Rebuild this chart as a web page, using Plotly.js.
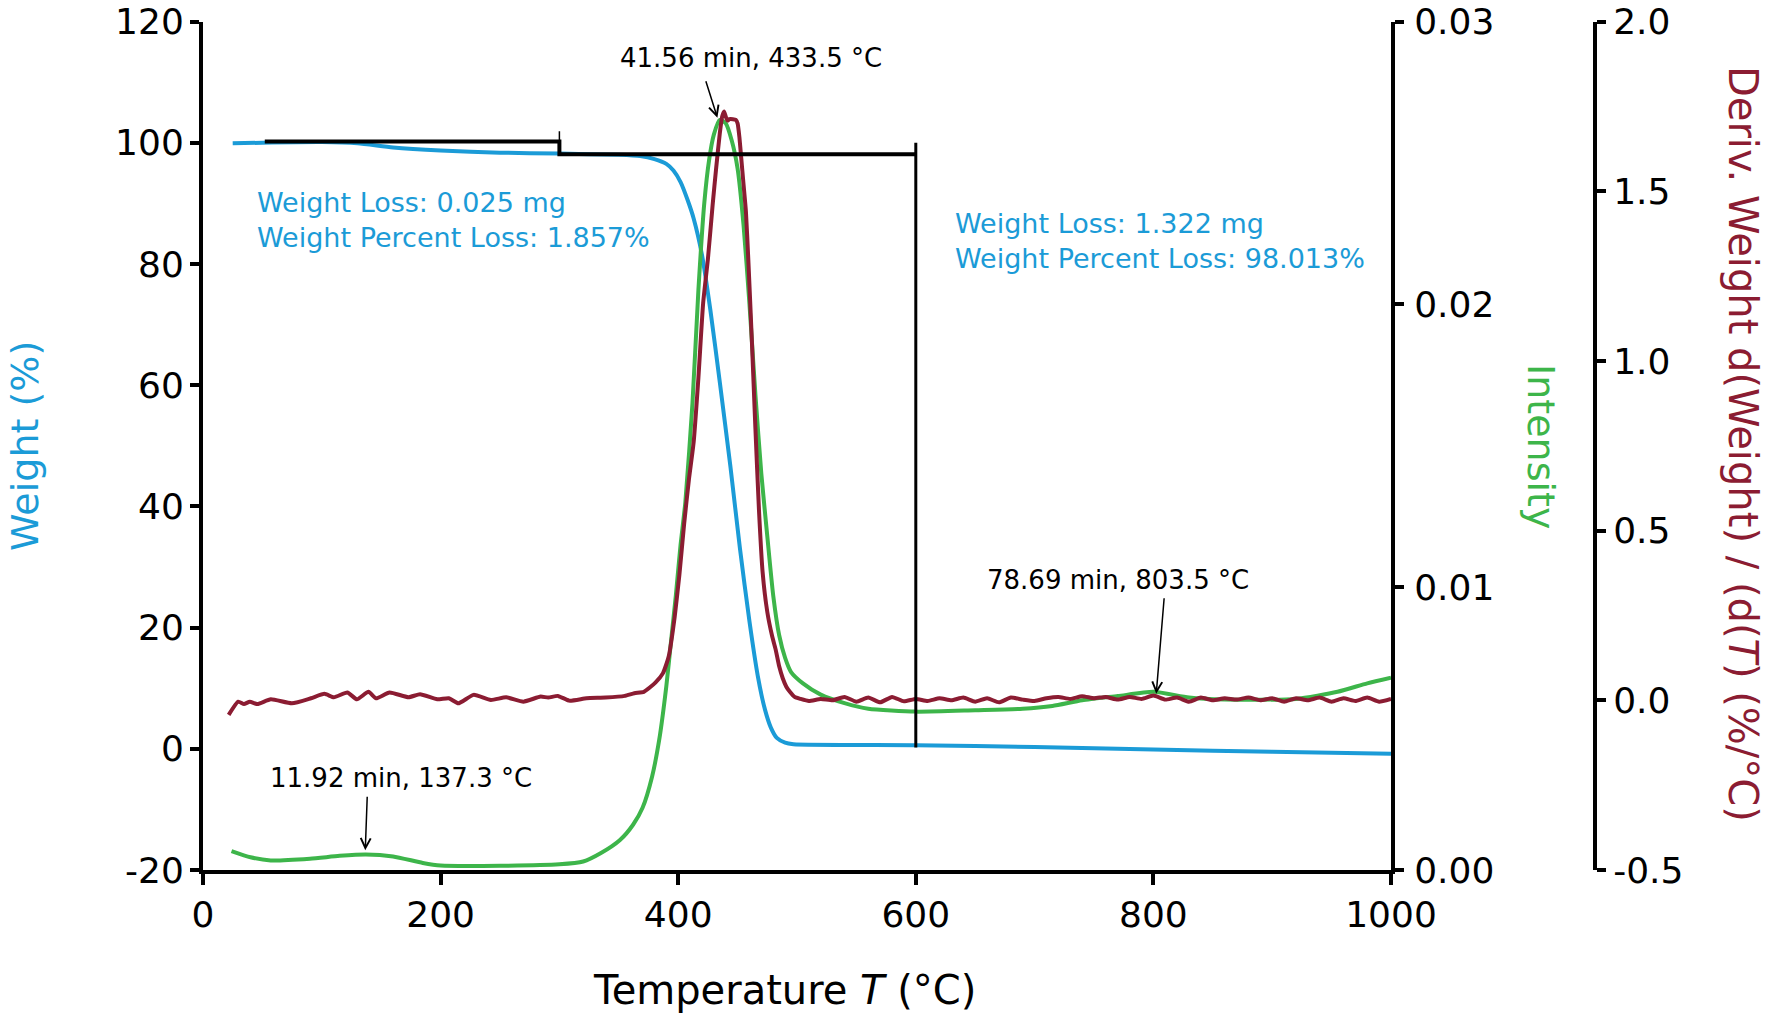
<!DOCTYPE html>
<html>
<head>
<meta charset="utf-8">
<script src="https://cdn.plot.ly/plotly-3.0.1.min.js"></script>
<style>
  html, body { margin: 0; padding: 0; background: #fff; }
  #chart { width: 1768px; height: 1015px; }
</style>
</head>
<body>
<div id="chart"></div>
<script>
// TGA weight curve (%)
const tempW = [25, 50, 100, 130, 160, 200, 250, 300, 350, 368, 380, 390, 396, 402, 408, 413, 420, 427, 435, 444, 452, 460, 467, 473, 478, 483, 490, 497, 600, 700, 800, 900, 1000]
const weight = [99.9, 100.0, 100.1, 99.9, 99.2, 98.7, 98.35, 98.2, 98.0, 97.8, 97.3, 96.5, 95.4, 93.5, 90.5, 87.5, 81.5, 72.5, 60.5, 46.5, 33, 21, 12, 6.5, 3.5, 1.8, 1.0, 0.75, 0.6, 0.3, -0.1, -0.5, -0.8]

// MS intensity
const tempI = [24, 40, 57, 90, 115, 137, 160, 185, 200, 250, 300, 320, 335, 351, 362, 370, 378, 384, 390, 394, 398, 402, 406, 412, 417, 422, 426, 430, 435, 440, 445, 450, 455, 460, 465, 470, 475, 480, 485, 490, 495, 505, 520, 540, 560, 600, 650, 690, 715, 740, 770, 800, 830, 860, 920, 955, 980, 1000]
const intensity = [0.00067, 0.00045, 0.00034, 0.0004, 0.0005, 0.00055, 0.00048, 0.00025, 0.00016, 0.00015, 0.0002, 0.0003, 0.0006, 0.00106, 0.0016, 0.0022, 0.0033, 0.0046, 0.0065, 0.0081, 0.0097, 0.0115, 0.0130, 0.0165, 0.0205, 0.0236, 0.0251, 0.0260, 0.02652, 0.0264, 0.0258, 0.0248, 0.0228, 0.0200, 0.0168, 0.0140, 0.0118, 0.0097, 0.0083, 0.0075, 0.0070, 0.0066, 0.0062, 0.0059, 0.0057, 0.0056, 0.00565, 0.0057, 0.0058, 0.0060, 0.00615, 0.0063, 0.0061, 0.00603, 0.00605, 0.0063, 0.0066, 0.0068]

// derivative weight (%/°C)
const tempD = [21.6, 29.7, 34.5, 39.4, 45.8, 57.1, 74.8, 90.9, 102.2, 110.2, 121.5, 129.6, 139.3, 145.7, 157, 173, 182.7, 197.2, 206.9, 214.9, 227.8, 242.3, 255.2, 269.7, 284.2, 290.6, 298.7, 308.3, 322.8, 338.9, 355, 363.1, 371.1, 380.8, 387.2, 392, 397, 401, 405, 409, 413, 417, 421, 425, 429, 432, 435, 437, 438.6, 440, 441.5, 443, 446, 448.5, 450, 451.5, 453, 455, 457, 459, 462, 465, 468, 471, 475, 479, 482, 485, 488, 491, 494, 498, 503,
  510, 520, 530, 540, 550, 560, 570, 580, 590, 600, 610, 620, 630, 640, 650, 660, 670, 680, 690, 700, 710, 720, 730, 740, 750, 760, 770, 780, 790, 800, 810, 820, 830, 840, 850, 860, 870, 880, 890, 900, 910, 920, 930, 940, 950, 960, 970, 980, 990, 1000]
const deriv = [-0.043, -0.004, -0.011, -0.004, -0.011, 0.003, -0.009, 0.006, 0.019, 0.009, 0.023, 0.003, 0.025, 0.006, 0.023, 0.009, 0.018, 0.003, 0.006, -0.009, 0.016, 0.001, 0.009, -0.004, 0.011, 0.008, 0.013, -0.001, 0.006, 0.008, 0.013, 0.021, 0.025, 0.052, 0.080, 0.129, 0.245, 0.37, 0.52, 0.65, 0.76, 0.95, 1.17, 1.30, 1.46, 1.57, 1.67, 1.72, 1.735, 1.72, 1.708, 1.712, 1.712, 1.71, 1.70, 1.66, 1.60, 1.52, 1.44, 1.30, 1.06, 0.80, 0.56, 0.38, 0.26, 0.19, 0.15, 0.10, 0.065, 0.04, 0.025, 0.01, 0.004,
  -0.002, 0.004, 0.0, 0.01, -0.004, 0.008, -0.006, 0.01, -0.003, 0.004, -0.002, 0.006, 0.0, 0.008, -0.004, 0.006, -0.006, 0.008, 0.002, -0.002, 0.006, 0.01, 0.004, 0.012, 0.006, 0.01, 0.002, 0.01, 0.004, 0.014, 0.002, 0.008, -0.004, 0.008, 0.0, 0.006, 0.002, 0.008, 0.0, 0.006, -0.004, 0.006, 0.0, 0.008, -0.004, 0.006, -0.002, 0.008, -0.004, 0.004]

// weight step analysis lines
const stepX = [52, 300, 300, 600]
const stepY = [100.2, 100.2, 98.1, 98.1]
const markX300 = [300, 300]
const markY300 = [101.9, 100.2]
const markX600 = [600, 600]
const markY600 = [100.0, 0.2]

// ticks
const xTicks = [0, 200, 400, 600, 800, 1000]
const wTicks = [-20, 0, 20, 40, 60, 80, 100, 120]
const wTickText = ['-20', '0', '20', '40', '60', '80', '100', '120']
const iTicks = [0, 0.01, 0.02, 0.03]
const iTickText = ['0.00', '0.01', '0.02', '0.03']
const dTicks = [-0.5, 0, 0.5, 1.0, 1.5, 2.0]
const dTickText = ['-0.5', '0.0', '0.5', '1.0', '1.5', '2.0']

const BLUE = '#1b9bd7'
const GREEN = '#3db54a'
const RED = '#8b1c32'
const FONT = 'DejaVu Sans, sans-serif'

const data = [
  { x: tempW, y: weight, yaxis: 'y', mode: 'lines', line: { color: BLUE, width: 4, shape: 'spline', smoothing: 0.6 } },
  { x: tempI, y: intensity, yaxis: 'y2', mode: 'lines', line: { color: GREEN, width: 4, shape: 'spline', smoothing: 0.6 } },
  { x: tempD, y: deriv, yaxis: 'y3', mode: 'lines', line: { color: RED, width: 4, shape: 'spline', smoothing: 0.5 } },
  { x: stepX, y: stepY, yaxis: 'y4', mode: 'lines', line: { color: '#000', width: 4 } },
  { x: markX300, y: markY300, yaxis: 'y4', mode: 'lines', line: { color: '#000', width: 1.5 } },
  { x: markX600, y: markY600, yaxis: 'y4', mode: 'lines', line: { color: '#000', width: 3 } },
]

const axisBase = {
  showgrid: false,
  zeroline: false,
  showline: true,
  linecolor: '#000',
  linewidth: 4,
  ticks: 'outside',
  tickcolor: '#000',
  tickwidth: 4,
  ticklen: 9,
  tickfont: { family: FONT, size: 36, color: '#000' },
  tickmode: 'array',
}

const xDomain = [203 / 1768, 1391 / 1768]
const yDomain = [1 - 870 / 1015, 1 - 21.5 / 1015]

const layout = {
  width: 1768,
  height: 1015,
  margin: { l: 0, r: 0, t: 0, b: 0 },
  paper_bgcolor: '#fff',
  plot_bgcolor: 'rgba(0,0,0,0)',
  showlegend: false,
  font: { family: FONT, color: '#000' },
  xaxis: { ...axisBase, domain: xDomain, range: [0, 1000], tickvals: xTicks, ticklen: 11, ticklabelstandoff: -1 },
  yaxis: { ...axisBase, domain: yDomain, range: [-20, 120], tickvals: wTicks, ticktext: wTickText, ticklabelstandoff: -1 },
  yaxis2: { ...axisBase, domain: yDomain, range: [0, 0.03], tickvals: iTicks, ticktext: iTickText, overlaying: 'y', side: 'right', anchor: 'x', ticklabelstandoff: 3 },
  yaxis3: { ...axisBase, domain: yDomain, range: [-0.5, 2.0], tickvals: dTicks, ticktext: dTickText, overlaying: 'y', side: 'right', anchor: 'free', position: 1595 / 1768, ticklabelstandoff: 0 },
  yaxis4: { domain: yDomain, range: [-20, 120], overlaying: 'y', visible: false },
  annotations: [
    { xref: 'paper', yref: 'paper', x: 784 / 1768, y: 1 - 990 / 1015, xanchor: 'center', yanchor: 'middle', showarrow: false,
      text: 'Temperature <i>T</i> (°C)', font: { family: FONT, size: 40, color: '#000' } },
    { xref: 'paper', yref: 'paper', x: 25 / 1768, y: 1 - 446 / 1015, xanchor: 'center', yanchor: 'middle', showarrow: false, textangle: -90,
      text: 'Weight (%)', font: { family: FONT, size: 38, color: BLUE } },
    { xref: 'paper', yref: 'paper', x: 1541 / 1768, y: 1 - 446 / 1015, xanchor: 'center', yanchor: 'middle', showarrow: false, textangle: 90,
      text: 'Intensity', font: { family: FONT, size: 38, color: GREEN } },
    { xref: 'paper', yref: 'paper', x: 1743 / 1768, y: 1 - 444 / 1015, xanchor: 'center', yanchor: 'middle', showarrow: false, textangle: 90,
      text: 'Deriv. Weight d(Weight) / (d(<i>T</i>) (%/°C)', font: { family: FONT, size: 40, color: RED } },
    { xref: 'x', yref: 'y', x: 44, y: 87.2, xanchor: 'left', yanchor: 'middle', align: 'left', showarrow: false,
      text: 'Weight Loss: 0.025 mg<br>Weight Percent Loss: 1.857%', font: { family: FONT, size: 27, color: BLUE } },
    { xref: 'x', yref: 'y', x: 631, y: 83.8, xanchor: 'left', yanchor: 'middle', align: 'left', showarrow: false,
      text: 'Weight Loss: 1.322 mg<br>Weight Percent Loss: 98.013%', font: { family: FONT, size: 27, color: BLUE } },
    { xref: 'x', yref: 'y', x: 461.3, y: 114.0, xanchor: 'center', yanchor: 'middle', showarrow: false,
      text: '41.56 min, 433.5 °C', font: { family: FONT, size: 26, color: '#000' } },
    { xref: 'x', yref: 'y', x: 166.9, y: -4.8, xanchor: 'center', yanchor: 'middle', showarrow: false,
      text: '11.92 min, 137.3 °C', font: { family: FONT, size: 26, color: '#000' } },
    { xref: 'x', yref: 'y', x: 770, y: 27.8, xanchor: 'center', yanchor: 'middle', showarrow: false,
      text: '78.69 min, 803.5 °C', font: { family: FONT, size: 26, color: '#000' } },
    // arrows
    { xref: 'x', yref: 'y2', x: 433, y: 0.0266, text: '', showarrow: true, ax: -12, ay: -38,
      arrowhead: 5, arrowsize: 1.3, arrowwidth: 1.5, arrowcolor: '#000' },
    { xref: 'x', yref: 'y2', x: 136.6, y: 0.0007, text: '', showarrow: true, ax: 2, ay: -55,
      arrowhead: 5, arrowsize: 1.3, arrowwidth: 1.5, arrowcolor: '#000' },
    { xref: 'x', yref: 'y2', x: 802.4, y: 0.00623, text: '', showarrow: true, ax: 8, ay: -97,
      arrowhead: 5, arrowsize: 1.3, arrowwidth: 1.5, arrowcolor: '#000' },
  ],
}

const config = { displayModeBar: false, responsive: false, staticPlot: true }

Plotly.newPlot('chart', data, layout, config)
</script>
</body>
</html>
